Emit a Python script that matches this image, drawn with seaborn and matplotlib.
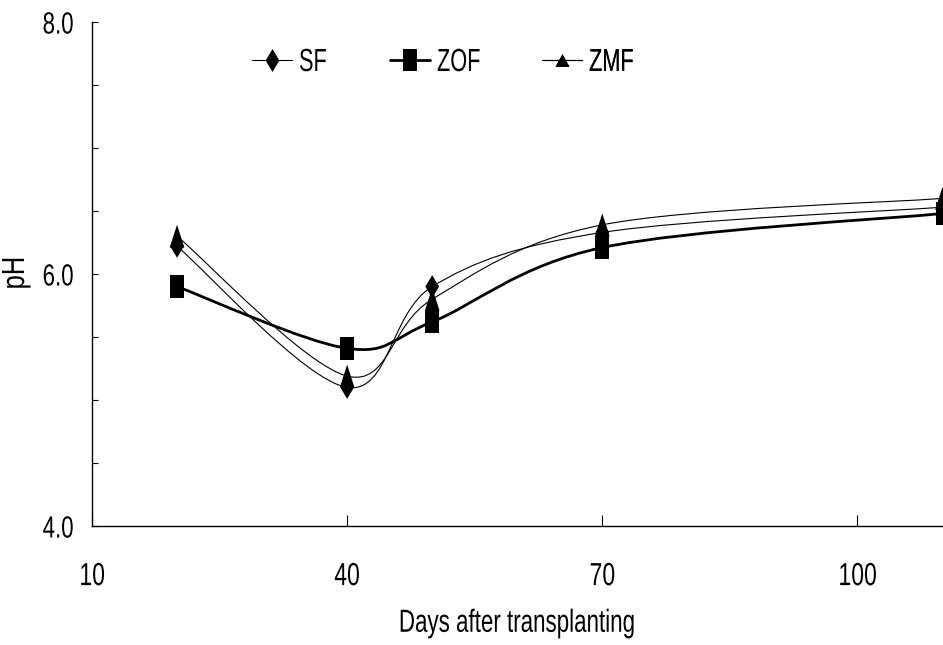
import numpy as np
import pandas as pd
import seaborn as sns
import matplotlib
matplotlib.use("Agg")
import matplotlib.pyplot as plt
from matplotlib.path import Path
from matplotlib.patches import PathPatch
from matplotlib.lines import Line2D
from matplotlib.patheffects import AbstractPathEffect
from matplotlib.transforms import Affine2D

# Sampling days and soil pH for the three fertiliser treatments
days = [20, 40, 50, 70, 110]
ph_sf = [6.22, 5.10, 5.90, 6.33, 6.53]
ph_zof = [5.90, 5.41, 5.62, 6.21, 6.48]
ph_zmf = [6.30, 5.19, 5.80, 6.39, 6.60]
series_names = ["SF", "ZOF", "ZMF"]
x_ticks = [10, 40, 70, 100]
y_major = [4.0, 6.0, 8.0]
y_tick_labels = ["4.0", "6.0", "8.0"]

sns.set_theme(style="white")
FONT = ["Liberation Sans", "DejaVu Sans"]
plt.rcParams["font.family"] = FONT
FS = 23


class Squeeze(AbstractPathEffect):
    """Draw text horizontally condensed about its left, centre or right edge."""

    def __init__(self, sx=0.7, anchor="center"):
        super().__init__()
        self.sx = sx
        self.anchor = anchor

    def draw_path(self, renderer, gc, tpath, affine, rgbFace=None):
        ext = tpath.get_extents()
        if self.anchor == "left":
            cx = 0.0
        elif self.anchor == "right":
            cx = ext.x1
        else:
            cx = 0.5 * (ext.x0 + ext.x1)
        t = Affine2D().translate(-cx, 0).scale(self.sx, 1).translate(cx, 0) + affine
        renderer.draw_path(gc, tpath, t, rgbFace)


fig = plt.figure(figsize=(9.43, 6.45), dpi=100)
W, H = 943, 645
left, right, top, bottom = 92, 942.5, 22, 526
ax = fig.add_axes([left / W, (H - bottom) / H, (right - left) / W, (bottom - top) / H])

df = pd.DataFrame({
    "day": days * 3,
    "pH": ph_sf + ph_zof + ph_zmf,
    "series": sum([[n] * len(days) for n in series_names], []),
})

# tall marker shapes
diamond = [(0, 0.5), (0.3, 0), (0, -0.5), (-0.3, 0), (0, 0.5)]
square = [(-0.3, -0.5), (0.3, -0.5), (0.3, 0.5), (-0.3, 0.5), (-0.3, -0.5)]
triangle = [(0, 0.5), (0.32, -0.5), (-0.32, -0.5), (0, 0.5)]
marker_map = {"SF": diamond, "ZOF": square, "ZMF": triangle}
line_w = {"SF": 0.8, "ZOF": 2.0, "ZMF": 0.8}


def smooth_path(xs, ys):
    """Bezier path through the points, with Catmull-Rom style control points."""
    pts = np.column_stack([xs, ys]).astype(float)
    n = len(pts)
    verts = [tuple(pts[0])]
    codes = [Path.MOVETO]
    for i in range(n - 1):
        p0 = pts[max(i - 1, 0)]
        p1 = pts[i]
        p2 = pts[i + 1]
        p3 = pts[min(i + 2, n - 1)]
        c1 = p1 + (p2 - p0) / 6.0
        c2 = p2 - (p3 - p1) / 6.0
        verts += [tuple(c1), tuple(c2), tuple(p2)]
        codes += [Path.CURVE4] * 3
    return Path(verts, codes)


for name in series_names:
    sub = df[df["series"] == name]
    patch = PathPatch(smooth_path(sub["day"].values, sub["pH"].values),
                      fill=False, edgecolor="black", lw=line_w[name],
                      transform=ax.transData, zorder=2, clip_on=False)
    ax.add_patch(patch)
    sns.scatterplot(data=sub, x="day", y="pH", marker=marker_map[name],
                    s=16.5 ** 2, color="black", edgecolor="none",
                    ax=ax, zorder=3, clip_on=False, legend=False)

ax.set_xlim(10, 110)
ax.set_ylim(4.0, 8.0)
ax.set_xticks(x_ticks)
ax.set_xticklabels([str(t) for t in x_ticks])
ax.set_yticks(y_major)
ax.set_yticklabels(y_tick_labels)
ax.set_yticks(np.arange(4.0, 8.01, 0.5), minor=True)

for s in ["top", "right"]:
    ax.spines[s].set_visible(False)
for s in ["left", "bottom"]:
    ax.spines[s].set_color("black")
    ax.spines[s].set_linewidth(1.0)

ax.tick_params(axis="x", which="major", direction="in", length=8, width=0.8,
               color="black", pad=26, labelsize=FS, bottom=True)
ax.tick_params(axis="y", which="both", direction="in", length=4.5, width=0.8,
               color="black", pad=13, labelsize=22, left=True)
for lab in ax.get_xticklabels():
    lab.set_family(FONT)
    lab.set_color("black")
    lab.set_path_effects([Squeeze(0.72, "center")])
for lab in ax.get_yticklabels():
    lab.set_family(FONT)
    lab.set_color("black")
    lab.set_path_effects([Squeeze(0.73, "right")])

ax.set_xlabel("Days after transplanting", fontsize=FS, color="black",
              family=FONT, labelpad=12,
              path_effects=[Squeeze(0.7, "center")])
ax.set_ylabel("pH", fontsize=FS, color="black", family=FONT,
              path_effects=[Squeeze(0.8, "center")])
ax.yaxis.set_label_coords(-(left - 31) / (right - left), (bottom - 273) / (bottom - top))
ax.grid(False)

legend_markers = {"SF": diamond, "ZOF": square,
                  "ZMF": [(0, 0.5), (0.55, -0.5), (-0.55, -0.5), (0, 0.5)]}
legend_ms = {"SF": 16.5, "ZOF": 16.5, "ZMF": 10}
legend_x = {"SF": 252, "ZOF": 390, "ZMF": 542}
em = FS * 100 / 72
for n in series_names:
    h = Line2D([0], [0], color="black", lw=line_w[n], marker=legend_markers[n],
               markersize=legend_ms[n], markerfacecolor="black", markeredgewidth=0)
    leg = ax.legend([h], [n], frameon=False, loc="center left",
                    bbox_to_anchor=((legend_x[n] - left) / (right - left),
                                    (bottom - 63) / (bottom - top)),
                    handlelength=40 / em, handletextpad=7 / em,
                    borderpad=0, borderaxespad=0,
                    prop={"family": FONT, "size": FS})
    for t in leg.get_texts():
        t.set_color("black")
        t.set_path_effects([Squeeze(0.68, "left")])
    ax.add_artist(leg)

fig.savefig("out.png", dpi=100)
